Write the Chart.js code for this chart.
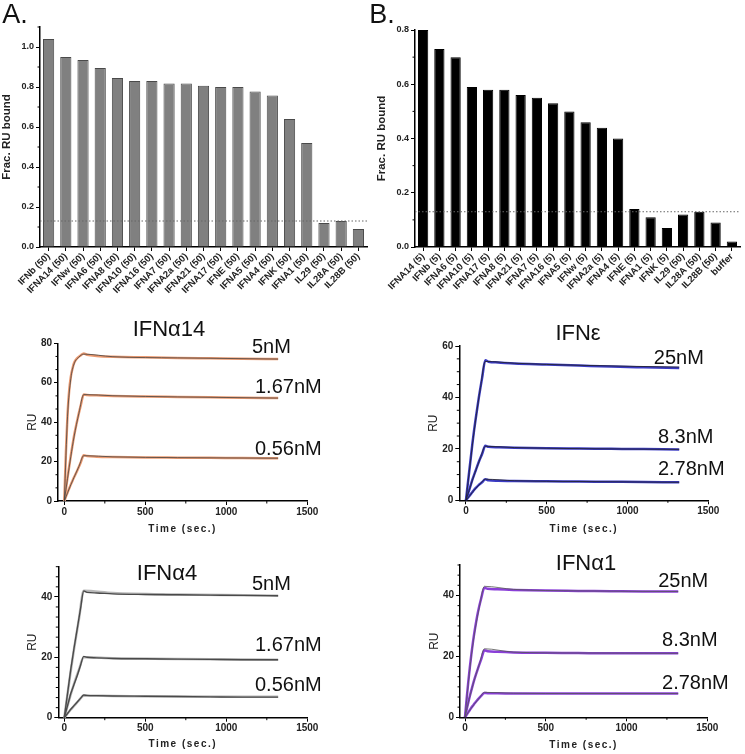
<!DOCTYPE html>
<html>
<head>
<meta charset="utf-8">
<script src="https://cdn.jsdelivr.net/npm/chart.js@4.4.1/dist/chart.umd.min.js"></script>
<style>
  body { margin: 0; background: #fff; }
  #fig { position: relative; width: 745px; height: 754px; overflow: hidden; font-family: "Liberation Sans", Arial, sans-serif; color: #111; }
  canvas { position: absolute; }
  .t { position: absolute; transform: translate(-50%, -50%); white-space: nowrap; line-height: 1; }
</style>
</head>
<body>
<div id="fig">
  <canvas id="cA" width="372" height="295" style="left:0;top:0"></canvas>
  <canvas id="cB" width="373" height="295" style="left:372px;top:0"></canvas>
  <canvas id="cC" width="372" height="245" style="left:0;top:300px"></canvas>
  <canvas id="cD" width="373" height="245" style="left:372px;top:300px"></canvas>
  <canvas id="cE" width="372" height="209" style="left:0;top:545px"></canvas>
  <canvas id="cF" width="373" height="209" style="left:372px;top:545px"></canvas>

  <div class="t" style="left:15px;top:14px;font-size:27px">A.</div>
  <div class="t" style="left:382px;top:14px;font-size:27px">B.</div>
  <div class="t" style="left:169px;top:329px;font-size:22px">IFNα14</div>
  <div class="t" style="left:578px;top:333px;font-size:22px">IFNε</div>
  <div class="t" style="left:167px;top:573px;font-size:22px">IFNα4</div>
  <div class="t" style="left:586px;top:563px;font-size:22px">IFNα1</div>
</div>
<script>
// bar panels
const catsA = ["IFNb (50)", "IFNA14 (50)", "IFNw (50)", "IFNA6 (50)", "IFNA8 (50)", "IFNA10 (50)", "IFNA16 (50)",
  "IFNA7 (50)", "IFNA2a (50)", "IFNA21 (50)", "IFNA17 (50)", "IFNE (50)", "IFNA5 (50)", "IFNA4 (50)",
  "IFNK (50)", "IFNA1 (50)", "IL29 (50)", "IL28A (50)", "IL28B (50)"];
const fracA = [1.04, 0.95, 0.935, 0.895, 0.845, 0.83, 0.83, 0.818, 0.818, 0.806, 0.80, 0.80, 0.778, 0.757,
  0.64, 0.52, 0.12, 0.13, 0.09];

const catsB = ["IFNA14 (5)", "IFNb (5)", "IFNA6 (5)", "IFNA10 (5)", "IFNA17 (5)", "IFNA8 (5)", "IFNA21 (5)",
  "IFNA7 (5)", "IFNA16 (5)", "IFNA5 (5)", "IFNw (5)", "IFNA2a (5)", "IFNA4 (5)", "IFNE (5)", "IFNA1 (5)",
  "IFNK (5)", "IL29 (50)", "IL28A (50)", "IL28B (50)", "buffer"];
const fracB = [0.80, 0.73, 0.70, 0.59, 0.58, 0.58, 0.56, 0.55, 0.53, 0.50, 0.46, 0.44, 0.40,
  0.14, 0.11, 0.07, 0.12, 0.13, 0.09, 0.02];

const cutoff = 0.13;

// sensorgram time points (sec.)
const tData = [0, 10, 20, 30, 40, 50, 60, 80, 100, 120, 140, 200, 300, 500, 700, 900, 1100, 1320];
const tFit = [0, 20, 40, 60, 90, 120, 300, 700, 1320];

// IFNa14
const a14_5 = [0, 25, 44, 56, 63, 67, 70, 72.5, 73.8, 74.8, 74.2, 73.6, 73.2, 72.9, 72.6, 72.4, 72.2, 72];
const a14_167 = [0, 6, 12, 17.5, 23, 28, 33, 41, 48, 54, 53.8, 53.6, 53.3, 53, 52.8, 52.6, 52.4, 52.2];
const a14_056 = [0, 2.2, 4.3, 6.3, 8.3, 10.2, 12, 15.5, 19.3, 23.2, 22.8, 22.5, 22.3, 22.1, 22, 21.9, 21.8, 21.7];
const a14_5fit = [0, 43, 62, 69.5, 73, 74.5, 73.2, 72.6, 72];
const a14_167fit = [0, 11.5, 22.5, 32.5, 44.5, 54, 53.4, 52.8, 52.2];
const a14_056fit = [0, 4.2, 8.2, 12, 17.5, 23, 22.4, 22, 21.7];

// IFNe
const e_25 = [0, 5.5, 11, 16.5, 22, 27, 31.5, 40, 47.5, 54.5, 53.9, 53.6, 53.2, 52.8, 52.4, 52, 51.7, 51.4];
const e_83 = [0, 2, 4, 6, 8, 9.8, 11.5, 15, 18, 21.2, 20.8, 20.6, 20.4, 20.2, 20.1, 20, 19.9, 19.8];
const e_278 = [0, 0.8, 1.6, 2.4, 3.2, 4, 4.7, 6, 7, 8.2, 7.8, 7.6, 7.5, 7.4, 7.3, 7.2, 7.1, 7.0];
const e_25fit = [0, 10.8, 21.5, 31.2, 43.8, 54, 53.3, 52.5, 51.8];
const e_83fit = [0, 3.9, 7.8, 11.4, 16.5, 21, 20.5, 20.1, 19.8];
const e_278fit = [0, 1.5, 3.1, 4.6, 6.5, 8.2, 7.6, 7.3, 7.0];

// IFNa4
const a4_5 = [0, 4, 8, 12, 16, 19.5, 23, 29.5, 36, 42, 41.5, 41.3, 41, 40.8, 40.7, 40.6, 40.5, 40.4];
const a4_167 = [0, 2, 4, 6, 8, 9.5, 11, 14, 17.3, 20.3, 20, 19.8, 19.6, 19.5, 19.4, 19.3, 19.2, 19.2];
const a4_056 = [0, 0.7, 1.4, 2.1, 2.8, 3.4, 4, 5.2, 6.4, 7.5, 7.4, 7.3, 7.2, 7.1, 7, 6.9, 6.8, 6.8];
const a4_5fit = [0, 7.8, 15.5, 22.7, 32.5, 42, 41.3, 40.8, 40.4];
const a4_167fit = [0, 3.9, 7.7, 11.2, 15.8, 20, 19.7, 19.4, 19.2];
const a4_056fit = [0, 1.4, 2.7, 3.9, 5.7, 7.3, 7.2, 7.0, 6.9];

// IFNa1
const a1_25 = [0, 6, 11.5, 16.5, 21, 25, 28.5, 34.5, 39, 42.5, 42.2, 42, 41.8, 41.6, 41.5, 41.4, 41.3, 41.3];
const a1_83 = [0, 2.5, 4.8, 7, 9, 11, 12.8, 16, 19, 22, 21.7, 21.5, 21.3, 21.2, 21.1, 21, 21, 21];
const a1_278 = [0, 0.8, 1.6, 2.4, 3.2, 3.9, 4.6, 5.9, 7, 8, 7.9, 7.9, 7.8, 7.8, 7.8, 7.8, 7.8, 7.8];
const a1_25fit = [0, 11, 20.5, 28, 36.5, 43, 42, 41.5, 41.3];
const a1_83fit = [0, 4.7, 8.9, 12.7, 17.6, 22.5, 21.4, 21.1, 21];
const a1_278fit = [0, 1.6, 3.1, 4.5, 6.4, 8.2, 7.9, 7.8, 7.8];

const FONT = "'Liberation Sans', Arial, sans-serif";
Chart.defaults.font.family = FONT;
Chart.defaults.color = "#222";

// minor ticks, cutoff line, curve labels and x title
const extras = {
  id: "extras",
  afterDraw(chart, args, o) {
    const ctx = chart.ctx, area = chart.chartArea;
    ctx.save();
    ctx.strokeStyle = "#000";
    ctx.lineWidth = 1;
    (o.minor || []).forEach(m => {
      const sc = chart.scales[m.axis];
      const vals = sc.ticks.map(t => t.value);
      const step = (vals[1] - vals[0]) / m.div;
      for (let v = vals[0] + step; v < sc.max + 1e-9; v += step) {
        if (vals.some(w => Math.abs(w - v) < step / 10)) continue;
        const p = sc.getPixelForValue(v);
        ctx.beginPath();
        if (sc.isHorizontal()) { ctx.moveTo(p, area.bottom); ctx.lineTo(p, area.bottom + 2.5); }
        else { ctx.moveTo(area.left, p); ctx.lineTo(area.left - 2.5, p); }
        ctx.stroke();
      }
    });
    if (o.cutoff != null) {
      const y = chart.scales.y.getPixelForValue(o.cutoff);
      ctx.strokeStyle = "#666";
      ctx.setLineDash([1.5, 2]);
      ctx.beginPath();
      ctx.moveTo(area.left, y);
      ctx.lineTo(area.right, y);
      ctx.stroke();
      ctx.setLineDash([]);
    }
    if (o.labels) {
      ctx.fillStyle = "#111";
      ctx.font = "20px " + FONT;
      ctx.textAlign = "left";
      ctx.textBaseline = "middle";
      o.labels.forEach(l => {
        ctx.fillText(l.text, chart.scales.x.getPixelForValue(l.x), chart.scales.y.getPixelForValue(l.y));
      });
    }
    if (o.xTitle) {
      ctx.fillStyle = "#222";
      ctx.font = "bold 10px " + FONT;
      ctx.letterSpacing = "1.5px";
      ctx.textAlign = "center";
      ctx.textBaseline = "middle";
      ctx.fillText(o.xTitle, (area.left + area.right) / 2, area.bottom + o.xTitleGap);
    }
    ctx.restore();
  }
};

const axisLine = { color: "#000", width: 1.5 };
const tickGrid = { drawOnChartArea: false, tickLength: 4, color: "#000", lineWidth: 1 };

function barPanel(id, cats, vals, ymax, fill, edge, pad, yW, xH, pct) {
  new Chart(document.getElementById(id), {
    type: "bar",
    data: {
      labels: cats,
      datasets: [{ data: vals, backgroundColor: fill, borderColor: edge, borderWidth: 1,
        barPercentage: pct, categoryPercentage: 1 }]
    },
    options: {
      responsive: false,
      animation: false,
      layout: { padding: pad },
      plugins: {
        legend: { display: false },
        tooltip: { enabled: false },
        extras: { cutoff: cutoff, minor: [{ axis: "y", div: 2 }] }
      },
      scales: {
        x: {
          grid: Object.assign({ offset: false }, tickGrid),
          border: axisLine,
          ticks: { minRotation: 45, maxRotation: 45, autoSkip: false, padding: 0,
            font: { size: 9.5, weight: "bold" } },
          afterFit: s => { s.height = xH; }
        },
        y: {
          min: 0,
          max: ymax,
          grid: tickGrid,
          border: axisLine,
          ticks: { stepSize: 0.2, padding: 2, font: { size: 9, weight: "bold" }, callback: v => v.toFixed(1) },
          afterBuildTicks: s => { s.ticks = s.ticks.filter(t => Math.abs(t.value / 0.2 - Math.round(t.value / 0.2)) < 1e-6); },
          title: { display: true, text: "Frac. RU bound", font: { size: 11.5, weight: "bold" }, padding: { top: 0, bottom: 2 } },
          afterFit: s => { s.width = yW; }
        }
      }
    },
    plugins: [extras]
  });
}

barPanel("cA", catsA, fracA, 1.1, "#808080", "#4a4a4a", { left: 0, top: 27, right: 5, bottom: 0 }, 40, 48, 0.65);
barPanel("cB", catsB, fracB, 0.8, "#000", "#000", { left: 3, top: 30, right: 5, bottom: 0 }, 40, 48, 0.63);

function pts(t, v) { return t.map((x, i) => ({ x: x, y: v[i] })); }

function kinPanel(id, curves, col, ymax, xmin, box, area, labels, minorY, gap) {
  const ds = [];
  curves.forEach(c => {
    ds.push({ data: pts(tFit, c[1]), borderColor: col.fit, borderWidth: col.fitW, order: col.fitOrder });
    ds.push({ data: pts(tData, c[0]), borderColor: col.data, borderWidth: col.dataW, order: 1 });
  });
  new Chart(document.getElementById(id), {
    type: "line",
    data: { datasets: ds },
    options: {
      responsive: false,
      animation: false,
      layout: { padding: { left: area[0] - box[0] - 33, top: area[1] - box[1], right: box[0] + box[2] - area[2], bottom: 0 } },
      elements: { point: { radius: 0 }, line: { cubicInterpolationMode: "monotone", fill: false } },
      plugins: {
        legend: { display: false },
        tooltip: { enabled: false },
        extras: { labels: labels, xTitle: "Time (sec.)", xTitleGap: gap,
          minor: [{ axis: "x", div: 2 }, { axis: "y", div: minorY }] }
      },
      scales: {
        x: {
          type: "linear",
          min: xmin,
          max: 1500,
          grid: tickGrid,
          border: axisLine,
          ticks: { padding: 1, font: { size: 10, weight: "bold" }, callback: v => String(v) },
          afterBuildTicks: s => { s.ticks = [0, 500, 1000, 1500].map(v => ({ value: v })); },
          afterFit: s => { s.height = box[1] + box[3] - area[3]; }
        },
        y: {
          min: 0,
          max: ymax,
          grid: tickGrid,
          border: axisLine,
          ticks: { stepSize: 20, padding: 2, font: { size: 10, weight: "bold" }, callback: v => String(v) },
          afterBuildTicks: s => { s.ticks = s.ticks.filter(t => t.value % 20 === 0); },
          title: { display: true, text: "RU", font: { size: 12 }, padding: { top: 0, bottom: 2 } },
          afterFit: s => { s.width = 33; }
        }
      }
    },
    plugins: [extras]
  });
}

kinPanel("cC", [[a14_5, a14_5fit], [a14_167, a14_167fit], [a14_056, a14_056fit]],
  { data: "#ec9a70", dataW: 2.5, fit: "#444", fitW: 0.8, fitOrder: 0 }, 80, -39,
  [0, 300, 372, 245], [58, 343.3, 307.3, 501],
  [{ text: "5nM", x: 1158, y: 77.7 }, { text: "1.67nM", x: 1177, y: 57.4 }, { text: "0.56nM", x: 1177, y: 25.9 }], 3, 28);

kinPanel("cD", [[e_25, e_25fit], [e_83, e_83fit], [e_278, e_278fit]],
  { data: "#3b3bc4", dataW: 2.5, fit: "#222", fitW: 0.8, fitOrder: 0 }, 60, -41,
  [372, 300, 373, 245], [459.3, 346, 708.3, 500.3],
  [{ text: "25nM", x: 1163, y: 55.3 }, { text: "8.3nM", x: 1188, y: 24.6 }, { text: "2.78nM", x: 1188, y: 11.8 }], 4, 28.5);

kinPanel("cE", [[a4_5, a4_5fit], [a4_167, a4_167fit], [a4_056, a4_056fit]],
  { data: "#4a4a4a", dataW: 1.4, fit: "#b8b8b8", fitW: 2.5, fitOrder: 2 }, 50, -37,
  [0, 545, 372, 209], [58.3, 566.7, 307.3, 717.7],
  [{ text: "5nM", x: 1158, y: 44.0 }, { text: "1.67nM", x: 1177, y: 23.8 }, { text: "0.56nM", x: 1177, y: 10.8 }], 6, 27);

kinPanel("cF", [[a1_25, a1_25fit], [a1_83, a1_83fit], [a1_278, a1_278fit]],
  { data: "#8a3fd8", dataW: 2.5, fit: "#555", fitW: 0.8, fitOrder: 0 }, 50, -31,
  [372, 545, 373, 209], [460, 565, 707.3, 717.3],
  [{ text: "25nM", x: 1196, y: 44.7 }, { text: "8.3nM", x: 1220, y: 25.1 }, { text: "2.78nM", x: 1220, y: 11.2 }], 6, 28);
</script>
</body>
</html>
